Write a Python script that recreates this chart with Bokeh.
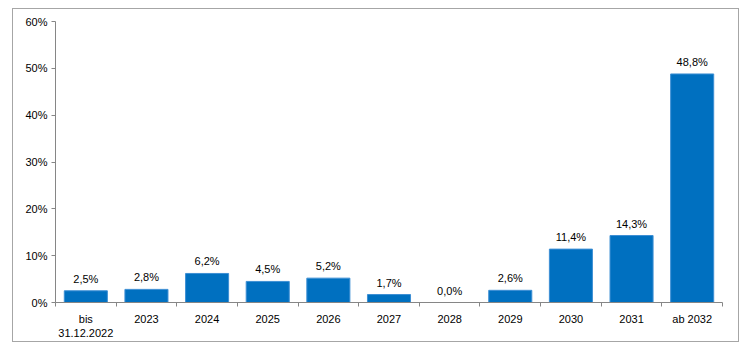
from bokeh.plotting import figure
from bokeh.models import ColumnDataSource, FixedTicker, Range1d
from bokeh.core.properties import value
from bokeh.embed import file_html
from bokeh.resources import INLINE

categories = ["bis\n31.12.2022", "2023", "2024", "2025", "2026", "2027", "2028", "2029", "2030", "2031", "ab 2032"]
values = [2.5, 2.8, 6.2, 4.5, 5.2, 1.7, 0.0, 2.6, 11.4, 14.3, 48.8]
labels = ["2,5%", "2,8%", "6,2%", "4,5%", "5,2%", "1,7%", "0,0%", "2,6%", "11,4%", "14,3%", "48,8%"]
y_ticks = [0, 10, 20, 30, 40, 50, 60]
y_tick_labels = ["0%", "10%", "20%", "30%", "40%", "50%", "60%"]

n = len(categories)
centers = [i + 0.5 for i in range(n)]
src = ColumnDataSource(dict(x=centers, top=values, lab=labels))

FONT = "Liberation Sans"

p = figure(frame_width=667, frame_height=281, output_backend="svg", toolbar_location=None,
           x_range=Range1d(0, n), y_range=Range1d(0, 60),
           min_border_left=42, min_border_right=16, min_border_top=12, min_border_bottom=36,
           margin=(8, 0, 0, 12),
           styles={"border": "1px solid #a6a6a6"})
p.outline_line_color = None
p.grid.visible = False
p.background_fill_color = "white"

p.vbar(x="x", top="top", width=0.71, bottom=0, source=src,
       fill_color="#0070C0", line_color="#3d8fd4", line_width=1)
p.text(x="x", y="top", text="lab", source=src, text_align="center", text_baseline="bottom",
       y_offset=-6, text_font=value(FONT), text_font_size="11px", text_color="#000000")

xax = p.xaxis[0]
xax.ticker = FixedTicker(ticks=centers, minor_ticks=list(range(n + 1)))
xax.major_label_overrides = {c: categories[i] for i, c in enumerate(centers)}
xax.major_tick_out = 0
xax.major_tick_in = 0
xax.minor_tick_out = 4
xax.minor_tick_in = 0
xax.minor_tick_line_color = "#868686"
xax.axis_line_color = "#868686"
xax.major_label_standoff = 6
xax.major_label_text_font = FONT
xax.major_label_text_font_size = "11px"
xax.major_label_text_color = "#000000"

yax = p.yaxis[0]
yax.ticker = FixedTicker(ticks=y_ticks, minor_ticks=[])
yax.major_label_overrides = {t: l for t, l in zip(y_ticks, y_tick_labels)}
yax.major_tick_out = 4
yax.major_tick_in = 0
yax.minor_tick_out = 0
yax.minor_tick_in = 0
yax.major_tick_line_color = "#868686"
yax.axis_line_color = "#868686"
yax.major_label_standoff = 4
yax.major_label_text_font = FONT
yax.major_label_text_font_size = "11px"
yax.major_label_text_color = "#000000"

open("out.html", "w").write(file_html(p, INLINE))
